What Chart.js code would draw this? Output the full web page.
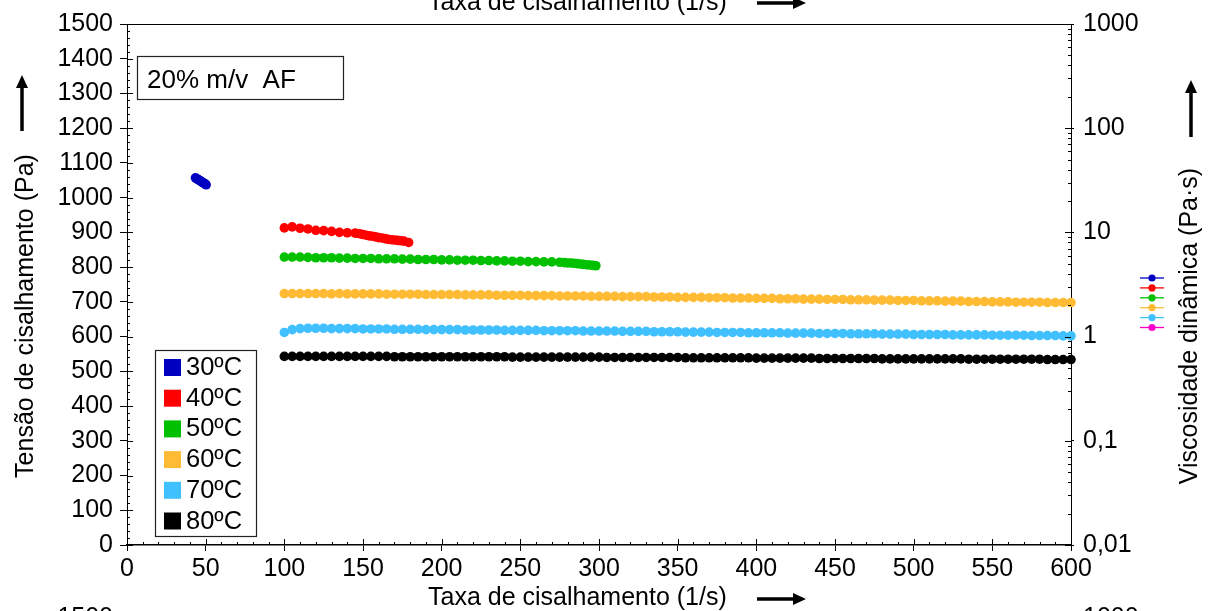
<!DOCTYPE html>
<html>
<head>
<meta charset="utf-8">
<script src="https://cdn.jsdelivr.net/npm/chart.js@4/dist/chart.umd.min.js"></script>
<style>
html,body{margin:0;padding:0;background:#fff}
#wrap{width:1208px;height:611px;position:relative}
</style>
</head>
<body>
<div id="wrap"><canvas id="c" width="1208" height="611"></canvas></div>
<script>
// data
const X_TICKS=[0,50,100,150,200,250,300,350,400,450,500,550,600];
const Y_TICKS=[0,100,200,300,400,500,600,700,800,900,1000,1100,1200,1300,1400,1500];
const Y2_TICKS=[0.01,0.1,1,10,100,1000];

const x30=[43.5,44.2,44.9,45.6,46.3,47,47.7,48.4,49.1,49.8,50.3];
const y30=[1057,1055,1053,1051,1049,1047,1045,1043,1041,1039,1037];

const x40=[100,105,110,115,120,125,130,135,140,145,148,150,152,154,156,158,160,162,164,166,168,170,172,174,176,179];
const y40=[913,916,912,910,906,905,903,900,899,898,896,894,892,890,889,887,885,884,882,880,879,878,877,876,875,871];

const x50=[100,105,110,115,120,125,130,135,140,145,150,155,160,165,170,175,180,185,190,195,200,205,210,215,220,225,230,235,240,245,250,255,260,265,270,275,
  278,280,282,284,286,288,290,292,294,296,298];
const y50=[829,829,829,828,827,827,827,826,826,825,825,825,824,824,824,823,823,822,822,822,821,821,820,820,820,819,819,818,818,817,817,816,816,815,815,814,
  813,812,812,811,810,809,808,807,806,805,804];

const xFull=[100,105,110,115,120,125,130,135,140,145,150,155,160,165,170,175,180,185,190,195,
  200,205,210,215,220,225,230,235,240,245,250,255,260,265,270,275,280,285,290,295,
  300,305,310,315,320,325,330,335,340,345,350,355,360,365,370,375,380,385,390,395,
  400,405,410,415,420,425,430,435,440,445,450,455,460,465,470,475,480,485,490,495,
  500,505,510,515,520,525,530,535,540,545,550,555,560,565,570,575,580,585,590,595,600];
const y60=[724,724,724,724,724,724,723,724,723,723,723,723,723,722,722,722,722,722,721,721,721,
  721,721,720,720,720,720,719,719,719,719,718,718,718,718,717,717,717,717,716,716,
  716,716,715,715,715,715,714,714,714,713,713,713,713,712,712,712,711,711,711,710,
  710,710,709,709,709,708,708,708,707,707,707,706,706,706,705,705,705,704,704,704,
  703,703,703,702,702,702,701,701,701,700,700,700,699,699,699,699,698,698,698,698];
const y70=[612,620,623,624,624,624,623,623,623,623,622,622,622,622,621,621,621,621,620,620,620,
  620,620,619,619,619,619,619,618,618,618,618,618,617,617,617,617,617,616,616,616,
  616,616,615,615,615,615,614,614,614,614,613,613,613,613,612,612,612,612,611,611,
  611,611,611,610,610,610,610,609,609,609,609,608,608,608,608,607,607,607,607,606,
  606,606,606,606,605,605,605,605,605,604,604,604,604,604,603,603,603,603,602,602];
const y80=[543,543,543,543,543,543,543,543,543,543,543,543,543,543,542,542,542,542,542,542,542,
  542,542,542,542,542,542,542,542,541,541,541,541,541,541,541,541,541,541,541,541,
  540,540,540,540,540,540,540,540,540,540,539,539,539,539,539,539,539,539,539,538,
  538,538,538,538,538,538,538,537,537,537,537,537,537,537,537,536,536,536,536,536,
  536,536,536,536,536,536,535,535,535,535,535,535,535,535,535,535,534,534,534,534];

const LABELS=['30ºC','40ºC','50ºC','60ºC','70ºC','80ºC'];
const COLORS=['#0000C0','#FF0000','#00C000','#FFBB33','#40C0FF','#000000'];
const VISC_COLORS=['#0000C0','#FF0000','#00C000','#FFBB33','#40C0FF','#FF00CC'];

const FONT='"Liberation Sans", Arial, sans-serif';
const pts=(xs,ys)=>xs.map((v,i)=>({x:v,y:ys[i]}));
const SERIES=[pts(x30,y30),pts(x40,y40),pts(x50,y50),pts(xFull,y60),pts(xFull,y70),pts(xFull,y80)];

function arrow(ctx,x1,y1,x2,y2){
  const a=Math.atan2(y2-y1,x2-x1),h=13,w=6;
  ctx.beginPath();ctx.lineWidth=3.5;ctx.moveTo(x1,y1);
  ctx.lineTo(x2-h*Math.cos(a),y2-h*Math.sin(a));ctx.stroke();
  ctx.beginPath();ctx.moveTo(x2,y2);
  ctx.lineTo(x2-h*Math.cos(a)+w*Math.sin(a),y2-h*Math.sin(a)-w*Math.cos(a));
  ctx.lineTo(x2-h*Math.cos(a)-w*Math.sin(a),y2-h*Math.sin(a)+w*Math.cos(a));
  ctx.closePath();ctx.fill();
}

const decor={id:'decor',afterDraw(chart){
  const {ctx,chartArea:a,scales:{x,y,y2}}=chart;
  ctx.save();
  ctx.strokeStyle='#000';ctx.fillStyle='#000';ctx.lineWidth=1;
  // top frame line
  ctx.beginPath();ctx.moveTo(a.left,a.top+0.5);ctx.lineTo(a.right,a.top+0.5);ctx.stroke();
  // inner parts of major ticks and minor ticks
  ctx.beginPath();
  for(let v=0;v<=600;v+=10){const p=Math.round(x.getPixelForValue(v))+0.5;const l=v%50===0?6:3;ctx.moveTo(p,a.bottom);ctx.lineTo(p,a.bottom-l)}
  for(let v=0;v<=1500;v+=20){const p=Math.round(y.getPixelForValue(v))+0.5;const l=v%100===0?6:3;ctx.moveTo(a.left,p);ctx.lineTo(a.left+l,p)}
  for(let d=0.01;d<1000;d*=10){for(let k=1;k<10;k++){const p=Math.round(y2.getPixelForValue(d*k))+0.5;const l=k===1?6:3;ctx.moveTo(a.right,p);ctx.lineTo(a.right-l,p)}}
  ctx.stroke();

  // annotation box
  ctx.lineWidth=1.2;ctx.strokeStyle='#222';
  ctx.strokeRect(137.5,56.5,206,43);
  ctx.font='26px '+FONT;ctx.textAlign='left';ctx.textBaseline='alphabetic';
  ctx.fillText('20% m/v  AF',147,88);

  // temperature legend
  ctx.fillStyle='#fff';ctx.fillRect(155,350,101,186);
  ctx.strokeRect(155.5,350.5,101,186);
  ctx.textBaseline='middle';ctx.font='25.5px '+FONT;
  LABELS.forEach((t,i)=>{
    const cy=367+i*30.7;
    ctx.fillStyle=COLORS[i];ctx.fillRect(164,cy-8,17,17);
    ctx.fillStyle='#000';ctx.fillText(t,186,cy+1);
  });

  // viscosity legend symbols
  VISC_COLORS.forEach((c,i)=>{
    const cy=278+i*9.9;
    ctx.strokeStyle=c;ctx.fillStyle=c;ctx.lineWidth=1.3;
    ctx.beginPath();ctx.moveTo(1140,cy);ctx.lineTo(1164,cy);ctx.stroke();
    ctx.beginPath();ctx.arc(1152,cy,3.6,0,Math.PI*2);ctx.fill();
  });

  // axis titles
  ctx.fillStyle='#000';ctx.strokeStyle='#000';
  ctx.font='25px '+FONT;ctx.textAlign='left';ctx.textBaseline='alphabetic';
  ctx.fillText('Taxa de cisalhamento (1/s)',428,605);
  arrow(ctx,757,599,806,599);
  ctx.fillText('Taxa de cisalhamento (1/s)',428,10);
  arrow(ctx,757,3,806,3);
  ctx.save();ctx.translate(26,316);ctx.rotate(-Math.PI/2);
  ctx.textAlign='center';ctx.textBaseline='middle';ctx.fillText('Tensão de cisalhamento (Pa)',0,0);ctx.restore();
  arrow(ctx,22,131,22,75);
  ctx.save();ctx.translate(1190,326);ctx.rotate(-Math.PI/2);
  ctx.textAlign='center';ctx.textBaseline='middle';ctx.fillText('Viscosidade dinâmica (Pa·s)',0,0);ctx.restore();
  arrow(ctx,1191,137,1191,80);

  // top of the next chart, cut off
  ctx.textAlign='right';ctx.fillText('1500',113,625);
  ctx.textAlign='left';ctx.fillText('1000',1083,625);
  ctx.restore();
}};

const tickFont={family:FONT,size:25};
new Chart(document.getElementById('c'),{
  type:'scatter',
  data:{datasets:SERIES.map((d,i)=>({label:LABELS[i],data:d,backgroundColor:COLORS[i],borderColor:COLORS[i],
    borderWidth:0,pointRadius:4.8,pointHoverRadius:4.8,showLine:false,clip:false}))},
  options:{
    responsive:false,animation:false,
    layout:{padding:{top:24,left:0,right:0,bottom:0}},
    plugins:{legend:{display:false},tooltip:{enabled:false},title:{display:false}},
    scales:{
      x:{type:'linear',position:'bottom',min:0,max:600,
        afterBuildTicks:s=>{s.ticks=X_TICKS.map(v=>({value:v}))},
        ticks:{color:'#000',font:tickFont,padding:3,maxRotation:0,autoSkip:false,callback:v=>String(v)},
        grid:{drawOnChartArea:false,tickLength:6,color:'#000'},
        border:{color:'#000',width:1.5},
        afterFit:s=>{s.height=66}},
      y:{type:'linear',position:'left',min:0,max:1500,
        afterBuildTicks:s=>{s.ticks=Y_TICKS.map(v=>({value:v}))},
        ticks:{color:'#000',font:tickFont,padding:7,autoSkip:false,callback:v=>String(v)},
        grid:{drawOnChartArea:false,tickLength:7,color:'#000'},
        border:{color:'#000',width:1},
        afterFit:s=>{s.width=127}},
      y2:{type:'logarithmic',position:'right',min:0.01,max:1000,
        afterBuildTicks:s=>{s.ticks=Y2_TICKS.map(v=>({value:v}))},
        ticks:{color:'#000',font:tickFont,padding:9,autoSkip:false,callback:v=>String(v).replace('.',',')},
        grid:{drawOnChartArea:false,tickLength:3,color:'#000'},
        border:{color:'#000',width:1},
        afterFit:s=>{s.width=137}}
    }
  },
  plugins:[decor]
});
</script>
</body>
</html>
